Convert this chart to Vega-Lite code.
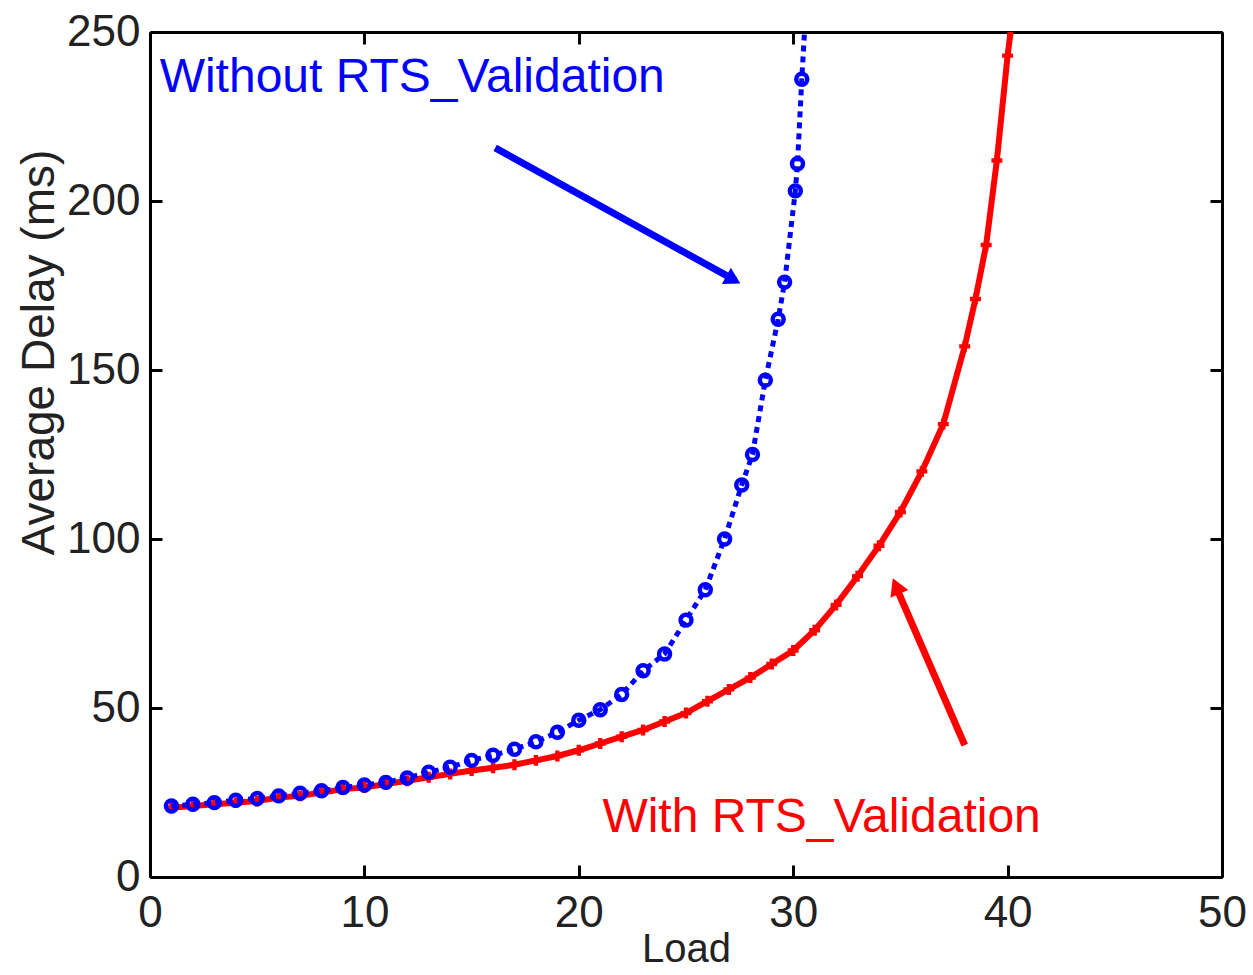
{
  "$schema": "https://vega.github.io/schema/vega-lite/v6.json",
  "width": 1072,
  "height": 845,
  "autosize": "none",
  "padding": {"left": 150, "top": 32, "right": 31, "bottom": 98},
  "background": "white",
  "config": {"view": {"stroke": null}, "font": "Liberation Sans"},
  "datasets": {
    "curves": [
      {"series": "with", "load": 1, "delay": 20.5},
      {"series": "with", "load": 2, "delay": 21},
      {"series": "with", "load": 3, "delay": 21.5},
      {"series": "with", "load": 4, "delay": 22},
      {"series": "with", "load": 5, "delay": 22.5},
      {"series": "with", "load": 6, "delay": 23.5},
      {"series": "with", "load": 7, "delay": 24},
      {"series": "with", "load": 8, "delay": 25},
      {"series": "with", "load": 9, "delay": 26},
      {"series": "with", "load": 10, "delay": 26.5},
      {"series": "with", "load": 11, "delay": 27.5},
      {"series": "with", "load": 12, "delay": 28.5},
      {"series": "with", "load": 13, "delay": 29.5},
      {"series": "with", "load": 14, "delay": 30.5},
      {"series": "with", "load": 15, "delay": 31.5},
      {"series": "with", "load": 16, "delay": 32.3},
      {"series": "with", "load": 17, "delay": 33.2},
      {"series": "with", "load": 18, "delay": 34.5},
      {"series": "with", "load": 19, "delay": 35.8},
      {"series": "with", "load": 20, "delay": 37.5},
      {"series": "with", "load": 21, "delay": 39.5},
      {"series": "with", "load": 22, "delay": 41.5},
      {"series": "with", "load": 23, "delay": 43.5},
      {"series": "with", "load": 24, "delay": 46},
      {"series": "with", "load": 25, "delay": 48.5},
      {"series": "with", "load": 26, "delay": 52},
      {"series": "with", "load": 27, "delay": 55.5},
      {"series": "with", "load": 28, "delay": 59},
      {"series": "with", "load": 29, "delay": 63},
      {"series": "with", "load": 30, "delay": 67},
      {"series": "with", "load": 31, "delay": 73},
      {"series": "with", "load": 32, "delay": 80.5},
      {"series": "with", "load": 33, "delay": 89},
      {"series": "with", "load": 34, "delay": 98},
      {"series": "with", "load": 35, "delay": 108},
      {"series": "with", "load": 36, "delay": 120},
      {"series": "with", "load": 37, "delay": 134},
      {"series": "with", "load": 38, "delay": 157},
      {"series": "with", "load": 38.5, "delay": 171},
      {"series": "with", "load": 39, "delay": 187},
      {"series": "with", "load": 39.5, "delay": 212},
      {"series": "with", "load": 40, "delay": 243},
      {"series": "with", "load": 40.3, "delay": 258},
      {"series": "without", "load": 1, "delay": 21},
      {"series": "without", "load": 2, "delay": 21.5},
      {"series": "without", "load": 3, "delay": 22},
      {"series": "without", "load": 4, "delay": 22.7},
      {"series": "without", "load": 5, "delay": 23.2},
      {"series": "without", "load": 6, "delay": 24},
      {"series": "without", "load": 7, "delay": 24.8},
      {"series": "without", "load": 8, "delay": 25.5},
      {"series": "without", "load": 9, "delay": 26.5},
      {"series": "without", "load": 10, "delay": 27.2},
      {"series": "without", "load": 11, "delay": 28},
      {"series": "without", "load": 12, "delay": 29.3},
      {"series": "without", "load": 13, "delay": 31},
      {"series": "without", "load": 14, "delay": 32.5},
      {"series": "without", "load": 15, "delay": 34.5},
      {"series": "without", "load": 16, "delay": 36},
      {"series": "without", "load": 17, "delay": 37.8},
      {"series": "without", "load": 18, "delay": 40},
      {"series": "without", "load": 19, "delay": 42.8},
      {"series": "without", "load": 20, "delay": 46.4},
      {"series": "without", "load": 21, "delay": 49.5},
      {"series": "without", "load": 22, "delay": 54},
      {"series": "without", "load": 23, "delay": 61},
      {"series": "without", "load": 24, "delay": 66},
      {"series": "without", "load": 25, "delay": 76},
      {"series": "without", "load": 25.9, "delay": 85},
      {"series": "without", "load": 26.8, "delay": 100},
      {"series": "without", "load": 27.6, "delay": 116},
      {"series": "without", "load": 28.1, "delay": 125},
      {"series": "without", "load": 28.7, "delay": 147},
      {"series": "without", "load": 29.3, "delay": 165},
      {"series": "without", "load": 29.6, "delay": 176},
      {"series": "without", "load": 30.1, "delay": 203},
      {"series": "without", "load": 30.2, "delay": 211},
      {"series": "without", "load": 30.4, "delay": 236},
      {"series": "without", "load": 30.6, "delay": 258}
    ],
    "arrows": [
      {"series": "without", "x": 16.1, "y": 215.7, "x2": 27.3, "y2": 176.5, "hx": 27.1, "hy": 177.1},
      {"series": "with", "x": 38.0, "y": 39, "x2": 34.75, "y2": 86.5, "hx": 34.85, "hy": 85.3}
    ],
    "labels": [
      {"series": "without", "text": "Without RTS_Validation", "x": 0.45, "y": 236.5},
      {"series": "with", "text": "With RTS_Validation", "x": 21.1, "y": 17.5}
    ]
  },
  "resolve": {"axis": {"x": "independent", "y": "independent"}},
  "layer": [
    {
      "data": {"name": "curves"},
      "transform": [{"filter": "datum.series === 'with'"}],
      "mark": {"type": "line", "color": "#ff0000", "strokeWidth": 6, "clip": true},
      "encoding": {
        "x": {"field": "load", "type": "quantitative", "scale": {"domain": [0, 50], "nice": false},
          "axis": {"orient": "bottom", "title": "Load", "values": [0, 10, 20, 30, 40, 50], "grid": false,
            "tickSize": -12, "tickWidth": 3, "tickColor": "black", "domainColor": "black", "domainWidth": 3,
            "labelFontSize": 44, "labelPadding": 26, "labelColor": "#222", "labelFlush": false,
            "titleFontSize": 40, "titleFontWeight": "normal", "titleColor": "#222", "titlePadding": -6}},
        "y": {"field": "delay", "type": "quantitative", "scale": {"domain": [0, 250], "nice": false},
          "axis": {"orient": "left", "title": "Average Delay (ms)", "values": [0, 50, 100, 150, 200, 250], "grid": false,
            "tickSize": -12, "tickWidth": 3, "tickColor": "black", "domainColor": "black", "domainWidth": 3,
            "labelFontSize": 44, "labelPadding": 22, "labelColor": "#222", "labelFlush": false,
            "titleFontSize": 46, "titleFontWeight": "normal", "titleColor": "#222",
            "titleAngle": -90, "titleX": -111, "titleY": 320, "titleBaseline": "middle", "titleAlign": "center"}}
      }
    },
    {
      "data": {"name": "curves"},
      "transform": [{"filter": "datum.series === 'with'"}],
      "mark": {"type": "point", "shape": "cross", "filled": true, "color": "#ff0000", "size": 120, "opacity": 1, "clip": true},
      "encoding": {
        "x": {"field": "load", "type": "quantitative", "axis": null},
        "y": {"field": "delay", "type": "quantitative", "axis": null}
      }
    },
    {
      "data": {"name": "curves"},
      "transform": [{"filter": "datum.series === 'without'"}],
      "mark": {"type": "line", "color": "#0000ff", "strokeWidth": 5, "strokeDash": [6, 5], "clip": true},
      "encoding": {
        "x": {"field": "load", "type": "quantitative", "axis": null},
        "y": {"field": "delay", "type": "quantitative", "axis": null}
      }
    },
    {
      "data": {"name": "curves"},
      "transform": [{"filter": "datum.series === 'without' && datum.delay < 250"}],
      "mark": {"type": "point", "shape": "circle", "filled": false, "color": "#0000ff", "size": 120, "strokeWidth": 4.5, "opacity": 1, "clip": true},
      "encoding": {
        "x": {"field": "load", "type": "quantitative", "axis": null},
        "y": {"field": "delay", "type": "quantitative", "axis": null}
      }
    },
    {
      "data": {"name": "arrows"},
      "transform": [{"filter": "datum.series === 'without'"}],
      "mark": {"type": "rule", "color": "#0000ff", "strokeWidth": 7},
      "encoding": {
        "x": {"field": "x", "type": "quantitative", "axis": null},
        "y": {"field": "y", "type": "quantitative", "axis": null},
        "x2": {"field": "x2"},
        "y2": {"field": "y2"}
      }
    },
    {
      "data": {"name": "arrows"},
      "transform": [{"filter": "datum.series === 'without'"}],
      "mark": {"type": "point", "shape": "triangle", "filled": true, "color": "#0000ff", "size": 340, "angle": 119, "opacity": 1},
      "encoding": {
        "x": {"field": "hx", "type": "quantitative", "axis": null},
        "y": {"field": "hy", "type": "quantitative", "axis": null}
      }
    },
    {
      "data": {"name": "arrows"},
      "transform": [{"filter": "datum.series === 'with'"}],
      "mark": {"type": "rule", "color": "#ff0000", "strokeWidth": 7},
      "encoding": {
        "x": {"field": "x", "type": "quantitative", "axis": null},
        "y": {"field": "y", "type": "quantitative", "axis": null},
        "x2": {"field": "x2"},
        "y2": {"field": "y2"}
      }
    },
    {
      "data": {"name": "arrows"},
      "transform": [{"filter": "datum.series === 'with'"}],
      "mark": {"type": "point", "shape": "triangle", "filled": true, "color": "#ff0000", "size": 380, "angle": 337, "opacity": 1},
      "encoding": {
        "x": {"field": "hx", "type": "quantitative", "axis": null},
        "y": {"field": "hy", "type": "quantitative", "axis": null}
      }
    },
    {
      "data": {"name": "labels"},
      "transform": [{"filter": "datum.series === 'without'"}],
      "mark": {"type": "text", "color": "#0000ff", "fontSize": 48, "align": "left", "baseline": "middle"},
      "encoding": {
        "x": {"field": "x", "type": "quantitative", "axis": null},
        "y": {"field": "y", "type": "quantitative", "axis": null},
        "text": {"field": "text"}
      }
    },
    {
      "data": {"name": "labels"},
      "transform": [{"filter": "datum.series === 'with'"}],
      "mark": {"type": "text", "color": "#ff0000", "fontSize": 48, "align": "left", "baseline": "middle"},
      "encoding": {
        "x": {"field": "x", "type": "quantitative", "axis": null},
        "y": {"field": "y", "type": "quantitative", "axis": null},
        "text": {"field": "text"}
      }
    },
    {
      "data": {"name": "labels"},
      "mark": {"type": "point", "opacity": 0},
      "encoding": {
        "x": {"field": "x", "type": "quantitative",
          "axis": {"orient": "top", "title": null, "labels": false, "values": [0, 10, 20, 30, 40, 50], "grid": false,
            "tickSize": -12, "tickWidth": 3, "tickColor": "black", "domainColor": "black", "domainWidth": 3}},
        "y": {"field": "y", "type": "quantitative",
          "axis": {"orient": "right", "title": null, "labels": false, "values": [0, 50, 100, 150, 200, 250], "grid": false,
            "tickSize": -12, "tickWidth": 3, "tickColor": "black", "domainColor": "black", "domainWidth": 3}}
      }
    }
  ]
}
